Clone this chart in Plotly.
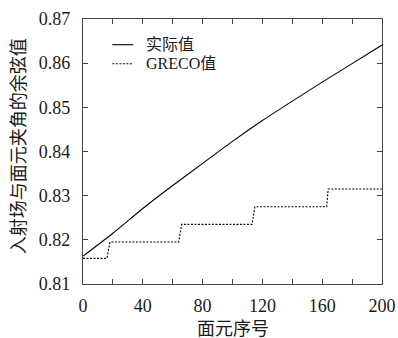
import plotly.graph_objects as go

# data
actual_x = [0, 20, 40, 60, 80, 100, 120, 140, 160, 180, 200]
actual_y = [0.8163, 0.8215, 0.8271, 0.8323, 0.8373, 0.8423, 0.8470, 0.8514, 0.8557, 0.8599, 0.8641]
greco_x = [0, 16, 18, 64, 66, 113, 115, 163, 164, 200]
greco_y = [0.8158, 0.8158, 0.8195, 0.8195, 0.8235, 0.8235, 0.8275, 0.8275, 0.8315, 0.8315]
x_ticks = [0, 40, 80, 120, 160, 200]
y_ticks = [0.81, 0.82, 0.83, 0.84, 0.85, 0.86, 0.87]
series_names = ["实际值", "GRECO值"]
x_title = "面元序号"
y_title = "入射场与面元夹角的余弦值"

FONT = "Liberation Serif, Noto Sans CJK SC, serif"
TXT = "#1a1a1a"
AX = "#444"

fig = go.Figure()
fig.add_trace(go.Scatter(x=actual_x, y=actual_y, mode="lines", name=series_names[0],
                         line=dict(color="black", width=1.1, shape="spline", smoothing=0.6),
                         showlegend=False))
fig.add_trace(go.Scatter(x=greco_x, y=greco_y, mode="lines", name=series_names[1],
                         line=dict(color="black", width=1.1, dash="2px,1.5px"), showlegend=False))

axis_common = dict(showline=True, linecolor=AX, linewidth=1.2, mirror="allticks",
                   ticks="inside", ticklen=5, tickcolor=AX, tickwidth=1,
                   showgrid=False, zeroline=False, automargin=False,
                   tickfont=dict(family=FONT, size=18, color=TXT))

fig.update_xaxes(range=[0, 200], tickvals=x_ticks, ticklabelstandoff=5,
                 minor=dict(dtick=20, ticks="inside", ticklen=5, tickcolor=AX, showgrid=False),
                 **axis_common)
fig.update_yaxes(range=[0.81, 0.87], tickvals=y_ticks, tickformat=".2f", ticklabelstandoff=8,
                 **axis_common)

# axis titles
fig.add_annotation(text=x_title, xref="paper", yref="paper", x=0.5, y=-0.17,
                   xanchor="center", yanchor="middle", showarrow=False,
                   font=dict(family=FONT, size=18, color=TXT))
fig.add_annotation(text=y_title, xref="paper", yref="paper", x=-0.214, y=0.52,
                   xanchor="center", yanchor="middle", showarrow=False, textangle=-90,
                   font=dict(family=FONT, size=18, color=TXT))

# legend (drawn in paper coordinates)
legend_rows = [(0.903, "solid"), (0.831, "2px,1.5px")]
for (ly, dash), name in zip(legend_rows, series_names):
    fig.add_shape(type="line", xref="paper", yref="paper", x0=0.098, x1=0.168, y0=ly, y1=ly,
                  line=dict(color="black", width=1.1, dash=dash))
    fig.add_annotation(text=name, xref="paper", yref="paper", x=0.205, y=ly,
                       xanchor="left", yanchor="middle", showarrow=False,
                       font=dict(family=FONT, size=16, color=TXT))

fig.update_layout(
    width=398, height=338,
    margin=dict(l=83, r=16, t=19, b=54),
    paper_bgcolor="white", plot_bgcolor="white",
    showlegend=False,
)

fig.write_html("out.html")
